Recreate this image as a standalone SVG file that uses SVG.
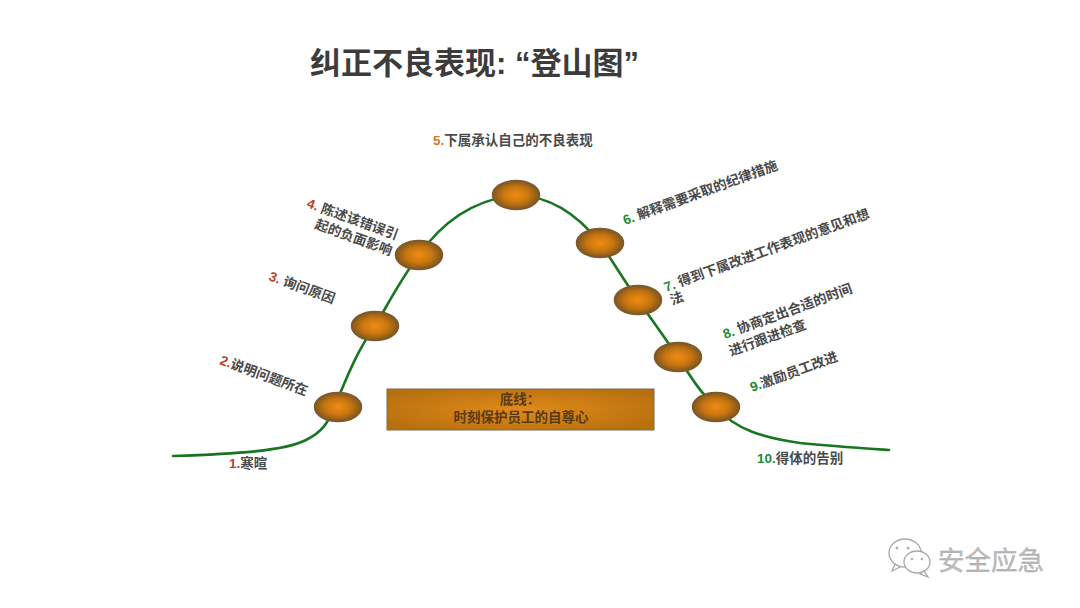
<svg xmlns="http://www.w3.org/2000/svg" width="1080" height="608" viewBox="0 0 1080 608">
<style>
text{font-family:"Liberation Sans","Noto Sans CJK SC",sans-serif}
.t{font-size:13.5px;font-weight:700;fill:#4a4a4a}
.r{fill:#b8432a}.g{fill:#1f8a35}.o{fill:#d07a28}
.n{fill:url(#ball);stroke:#7a5a30;stroke-width:1.5}
.curve{fill:none;stroke:#17761f;stroke-width:2.6;stroke-linecap:round}
.wm{fill:#fff;stroke:#a8a8a8;stroke-width:1.3}
.b{fill:#5a3a14}
</style>
<defs>
<radialGradient id="ball" cx="50%" cy="50%" r="50%"><stop offset="0" stop-color="#f08c14"/><stop offset=".55" stop-color="#c8760f"/><stop offset="1" stop-color="#80561e"/></radialGradient>
<radialGradient id="box" cx="50%" cy="50%" r="60%"><stop offset="0" stop-color="#e08a18"/><stop offset="1" stop-color="#b8700f"/></radialGradient>
</defs>
<rect width="1080" height="608" fill="#fff"/>
<text x="310" y="74" font-size="31" font-weight="700" fill="#3c3c3c">纠正不良表现: “登山图”</text>
<g id="connectors">
<path class="curve" d="M173 456C235 454 285 451 306 440C322 432 328 423 334 408C345 382 356 352 375 326C387 306 400 280 419 255C440 225 470 200 516 195C550 196 578 215 600 243C612 260 625 282 638 300C652 320 665 338 678 357C690 376 702 395 716 407C735 430 765 438 800 443C830 446 860 448 889 450"/>
</g>
<g id="node-1"><text class="t" x="229" y="468"><tspan class="r">1.</tspan>寒暄</text></g>
<g id="node-2"><ellipse class="n" cx="338" cy="407" rx="23.5" ry="14.5"/><text class="t" transform="translate(219 364) rotate(20)"><tspan class="r">2.</tspan>说明问题所在</text></g>
<g id="node-3"><ellipse class="n" cx="375" cy="326" rx="23.5" ry="14.5"/><text class="t" transform="translate(268 280) rotate(20)"><tspan class="r">3. </tspan>询问原因</text></g>
<g id="node-4"><ellipse class="n" cx="419" cy="255" rx="23.5" ry="14.5"/><text class="t" transform="translate(306 207) rotate(20)"><tspan class="r">4. </tspan>陈述该错误引</text><text class="t" transform="translate(314 228) rotate(20)">起的负面影响</text></g>
<g id="node-5"><ellipse class="n" cx="516" cy="195" rx="23.5" ry="14.5"/><text class="t" x="433" y="145"><tspan class="o">5.</tspan>下属承认自己的不良表现</text></g>
<g id="node-6"><ellipse class="n" cx="600" cy="243" rx="23.5" ry="14.5"/><text class="t" transform="translate(625 225) rotate(-20)"><tspan class="g">6. </tspan>解释需要采取的纪律措施</text></g>
<g id="node-7"><ellipse class="n" cx="638" cy="300" rx="23.5" ry="14.5"/><text class="t" transform="translate(666 292) rotate(-20)"><tspan class="g">7. </tspan>得到下属改进工作表现的意见和想</text><text class="t" transform="translate(672 305) rotate(-20)">法</text></g>
<g id="node-8"><ellipse class="n" cx="678" cy="357" rx="23.5" ry="14.5"/><text class="t" transform="translate(725 339) rotate(-20)"><tspan class="g">8. </tspan>协商定出合适的时间</text><text class="t" transform="translate(731 356) rotate(-20)">进行跟进检查</text></g>
<g id="node-9"><ellipse class="n" cx="716" cy="407" rx="23.5" ry="14.5"/><text class="t" transform="translate(752 392) rotate(-20)"><tspan class="g">9.</tspan>激励员工改进</text></g>
<g id="node-10"><text class="t" x="757" y="463"><tspan class="g">10.</tspan>得体的告别</text></g>
<g id="note">
<rect x="387" y="389" width="267" height="41" fill="url(#box)" stroke="#7a6a50" stroke-width="1"/>
<text class="t b" style="fill:#5a3a14" x="520" y="404" text-anchor="middle">底线：</text>
<text class="t b" style="fill:#5a3a14" x="521" y="422" text-anchor="middle">时刻保护员工的自尊心</text>
</g>
<g id="watermark">
<ellipse class="wm" cx="905" cy="553" rx="16" ry="14"/>
<path class="wm" d="M895 564l-3 7 8-4z"/>
<ellipse class="wm" cx="917" cy="562" rx="13" ry="11"/>
<path class="wm" d="M924 571l4 6-8-3z"/>
<circle cx="897" cy="548" r="1.5" fill="#b0b0b0"/><circle cx="908" cy="548" r="1.5" fill="#b0b0b0"/>
<circle cx="912" cy="559" r="1.3" fill="#b0b0b0"/><circle cx="922" cy="559" r="1.3" fill="#b0b0b0"/>
<text x="938" y="570" font-size="26.5" fill="#bdbdbd" stroke="#9a9a9a" stroke-width=".3">安全应急</text>
</g>
</svg>
